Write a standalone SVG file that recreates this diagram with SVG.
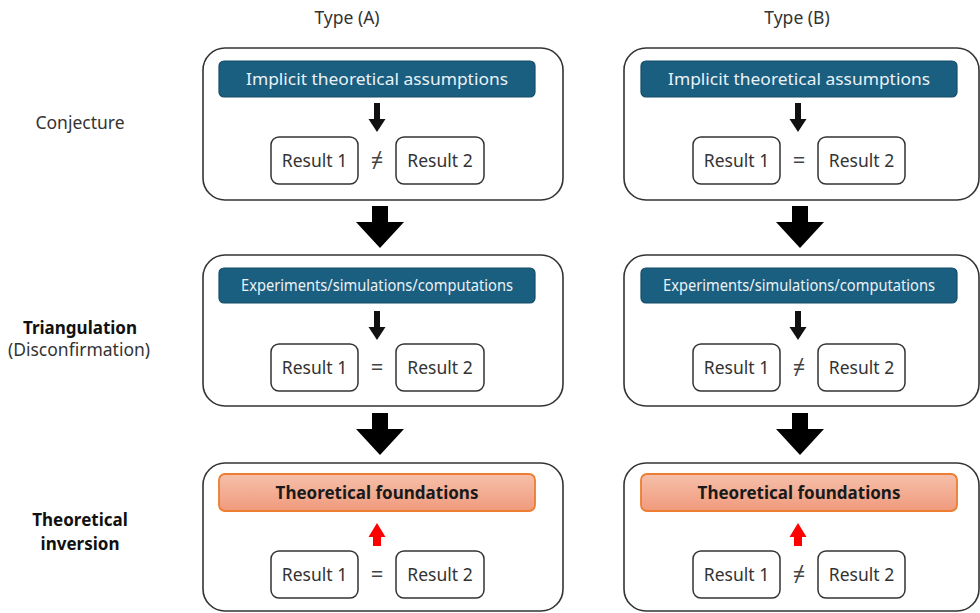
<svg xmlns="http://www.w3.org/2000/svg" width="980" height="613" viewBox="0 0 980 613">
<defs>
<linearGradient id="og" x1="0" y1="0" x2="0" y2="1">
<stop offset="0" stop-color="#f6c0ab"/>
<stop offset="1" stop-color="#f09a7c"/>
</linearGradient>
<path id="bigArrow" d="M-8,0 H8 V16 H24 L0,42 L-24,16 H-8 Z"/>
<path id="smallArrow" d="M-3,0 H3 V16 H8.5 L0,29 L-8.5,16 H-3 Z"/>
<path id="redArrow" d="M-4,23 H4 V14 H8.5 L0,0 L-8.5,14 H-4 Z"/>
</defs>
<style>
text{font-family:"Noto Sans","Liberation Sans",sans-serif;}
.panel{fill:#fff;stroke:#333;stroke-width:1.6;}
.blue{fill:#1a5e80;stroke:#154d69;stroke-width:1.2;}
.btxt{fill:#eaf2f6;font-size:17px;text-anchor:middle;}
.orange{fill:url(#og);stroke:#ed7d31;stroke-width:1.8;}
.otxt{fill:#1a1a1a;font-size:17px;font-weight:bold;text-anchor:middle;}
.res{fill:#fff;stroke:#333;stroke-width:1.5;}
.rtxt{fill:#333;font-size:17.5px;text-anchor:middle;}
.sign{fill:#444;font-size:22px;text-anchor:middle;}
.lbl{fill:#333;font-size:17.5px;text-anchor:middle;}
.lblb{fill:#111;font-size:17px;font-weight:bold;text-anchor:middle;}
</style>
<rect width="980" height="613" fill="#fff"/>

<g id="titles">
<text class="lbl" x="347" y="24">Type (A)</text>
<text class="lbl" x="797" y="24">Type (B)</text>
</g>

<g id="row-labels">
<text class="lbl" x="80" y="129">Conjecture</text>
<text class="lblb" x="80" y="334">Triangulation</text>
<text class="lbl" x="79" y="356">(Disconfirmation)</text>
<text class="lblb" x="80" y="526">Theoretical</text>
<text class="lblb" x="80" y="550">inversion</text>
</g>

<!-- Type A -->
<g id="A-conjecture">
<rect class="panel" x="203" y="48" width="360" height="152" rx="22"/>
<rect class="blue" x="219" y="61" width="316" height="36" rx="5"/>
<text class="btxt" x="377" y="85" textLength="262" lengthAdjust="spacingAndGlyphs">Implicit theoretical assumptions</text>
<use href="#smallArrow" x="377" y="103" fill="#111"/>
<rect class="res" x="271" y="137" width="87" height="47" rx="8"/>
<text class="rtxt" x="314.5" y="166.5">Result 1</text>
<text class="sign" x="377" y="168">≠</text>
<rect class="res" x="396" y="137" width="88" height="47" rx="8"/>
<text class="rtxt" x="440" y="166.5">Result 2</text>
</g>

<g id="A-triangulation">
<rect class="panel" x="203" y="255" width="360" height="151" rx="22"/>
<rect class="blue" x="219" y="268" width="316" height="35" rx="5"/>
<text class="btxt" x="377" y="291" textLength="272" lengthAdjust="spacingAndGlyphs">Experiments/simulations/computations</text>
<use href="#smallArrow" x="377" y="311" fill="#111"/>
<rect class="res" x="271" y="344" width="87" height="47" rx="8"/>
<text class="rtxt" x="314.5" y="373.5">Result 1</text>
<text class="sign" x="377" y="375">=</text>
<rect class="res" x="396" y="344" width="88" height="47" rx="8"/>
<text class="rtxt" x="440" y="373.5">Result 2</text>
</g>

<g id="A-inversion">
<rect class="panel" x="203" y="463" width="360" height="148" rx="22"/>
<rect class="orange" x="219" y="474" width="316" height="37" rx="6"/>
<text class="otxt" x="377" y="499">Theoretical foundations</text>
<use href="#redArrow" x="377" y="523" fill="#ff0000"/>
<rect class="res" x="271" y="551" width="87" height="47" rx="8"/>
<text class="rtxt" x="314.5" y="580.5">Result 1</text>
<text class="sign" x="377" y="582">=</text>
<rect class="res" x="396" y="551" width="88" height="47" rx="8"/>
<text class="rtxt" x="440" y="580.5">Result 2</text>
</g>

<!-- Type B -->
<g id="B-conjecture">
<rect class="panel" x="624" y="48" width="355" height="152" rx="22"/>
<rect class="blue" x="641" y="61" width="316" height="36" rx="5"/>
<text class="btxt" x="799" y="85" textLength="262" lengthAdjust="spacingAndGlyphs">Implicit theoretical assumptions</text>
<use href="#smallArrow" x="798" y="103" fill="#111"/>
<rect class="res" x="693" y="137" width="87" height="47" rx="8"/>
<text class="rtxt" x="736.5" y="166.5">Result 1</text>
<text class="sign" x="799" y="168">=</text>
<rect class="res" x="818" y="137" width="87" height="47" rx="8"/>
<text class="rtxt" x="861.5" y="166.5">Result 2</text>
</g>

<g id="B-triangulation">
<rect class="panel" x="624" y="255" width="355" height="151" rx="22"/>
<rect class="blue" x="641" y="268" width="316" height="35" rx="5"/>
<text class="btxt" x="799" y="291" textLength="272" lengthAdjust="spacingAndGlyphs">Experiments/simulations/computations</text>
<use href="#smallArrow" x="798" y="311" fill="#111"/>
<rect class="res" x="693" y="344" width="87" height="47" rx="8"/>
<text class="rtxt" x="736.5" y="373.5">Result 1</text>
<text class="sign" x="799" y="375">≠</text>
<rect class="res" x="818" y="344" width="87" height="47" rx="8"/>
<text class="rtxt" x="861.5" y="373.5">Result 2</text>
</g>

<g id="B-inversion">
<rect class="panel" x="624" y="463" width="355" height="148" rx="22"/>
<rect class="orange" x="641" y="474" width="316" height="37" rx="6"/>
<text class="otxt" x="799" y="499">Theoretical foundations</text>
<use href="#redArrow" x="798" y="523" fill="#ff0000"/>
<rect class="res" x="693" y="551" width="87" height="47" rx="8"/>
<text class="rtxt" x="736.5" y="580.5">Result 1</text>
<text class="sign" x="799" y="582">≠</text>
<rect class="res" x="818" y="551" width="87" height="47" rx="8"/>
<text class="rtxt" x="861.5" y="580.5">Result 2</text>
</g>

<g id="connectors" fill="#000">
<use href="#bigArrow" x="380" y="206"/>
<use href="#bigArrow" x="380" y="413"/>
<use href="#bigArrow" x="800" y="206"/>
<use href="#bigArrow" x="800" y="413"/>
</g>
</svg>
